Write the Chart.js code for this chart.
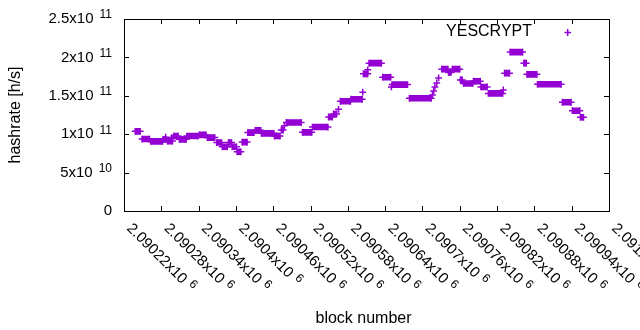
<!DOCTYPE html>
<html>
<head>
<meta charset="utf-8">
<script src="https://cdn.jsdelivr.net/npm/chart.js@4/dist/chart.umd.min.js"></script>
<style>
  body { margin: 0; background: #fff; }
  canvas { display: block; }
</style>
</head>
<body>
<canvas id="hashChart" width="640" height="330"></canvas>
<script>
// hashrate plateaus: first block, last block, hashrate [h/s]
var segStart = [2090238, 2090249, 2090263, 2090283, 2090287, 2090290, 2090297, 2090300, 2090309, 2090321,
                2090341, 2090354, 2090369, 2090378, 2090388, 2090394, 2090402, 2090410, 2090419, 2090431,
                2090441, 2090462, 2090473, 2090478, 2090481, 2090507, 2090523, 2090549, 2090557, 2090565,
                2090568, 2090585, 2090604, 2090605, 2090612, 2090614, 2090636, 2090650, 2090651, 2090679,
                2090716, 2090718, 2090720, 2090723, 2090726, 2090731, 2090742, 2090748, 2090761, 2090766,
                2090782, 2090794, 2090806, 2090830, 2090832, 2090841, 2090863, 2090868, 2090885, 2090925,
                2090941, 2090954];
var segEnd   = [2090246, 2090261, 2090282, 2090288, 2090287, 2090298, 2090297, 2090307, 2090320, 2090339,
                2090352, 2090366, 2090377, 2090386, 2090393, 2090401, 2090408, 2090418, 2090429, 2090440,
                2090461, 2090471, 2090476, 2090478, 2090505, 2090522, 2090548, 2090555, 2090562, 2090565,
                2090584, 2090603, 2090604, 2090612, 2090612, 2090634, 2090649, 2090650, 2090676, 2090714,
                2090716, 2090718, 2090720, 2090723, 2090726, 2090741, 2090746, 2090760, 2090764, 2090781,
                2090793, 2090804, 2090829, 2090830, 2090840, 2090861, 2090867, 2090884, 2090923, 2090939,
                2090953, 2090959];
var segRate  = [1.037e11, 0.937e11, 0.906e11, 0.933e11, 0.960e11, 0.910e11, 0.956e11, 0.976e11, 0.933e11, 0.976e11,
                0.991e11, 0.956e11, 0.891e11, 0.836e11, 0.891e11, 0.836e11, 0.771e11, 0.897e11, 1.021e11, 1.050e11,
                1.011e11, 0.976e11, 1.055e11, 1.110e11, 1.153e11, 1.024e11, 1.093e11, 1.224e11, 1.263e11, 1.324e11,
                1.429e11, 1.455e11, 1.547e11, 1.786e11, 1.838e11, 1.925e11, 1.742e11, 1.616e11, 1.646e11, 1.468e11,
                1.511e11, 1.564e11, 1.616e11, 1.668e11, 1.733e11, 1.847e11, 1.805e11, 1.847e11, 1.707e11, 1.661e11,
                1.690e11, 1.615e11, 1.531e11, 1.577e11, 1.795e11, 2.069e11, 1.925e11, 1.779e11, 1.650e11, 1.416e11,
                1.306e11, 1.220e11];

var xTickValues = [2090220, 2090280, 2090340, 2090400, 2090460, 2090520, 2090580,
                   2090640, 2090700, 2090760, 2090820, 2090880, 2090940, 2091000];
var xTickLabels = ['2.09022x10^6', '2.09028x10^6', '2.09034x10^6', '2.0904x10^6', '2.09046x10^6',
                   '2.09052x10^6', '2.09058x10^6', '2.09064x10^6', '2.0907x10^6', '2.09076x10^6',
                   '2.09082x10^6', '2.09088x10^6', '2.09094x10^6', '2.091x10^6'];
var yTickValues = [0, 5e10, 1e11, 1.5e11, 2e11, 2.5e11];
var yTickLabels = ['0', '5x10^10', '1x10^11', '1.5x10^11', '2x10^11', '2.5x10^11'];

var seriesName = 'YESCRYPT';
var purple = '#9400d3';
var FONT = '"Liberation Sans", Arial, sans-serif';

// each plateau becomes a line piece, broken by a null point
var points = [];
segStart.forEach(function (s, i) {
    points.push({x: s, y: segRate[i]});
    if (segEnd[i] !== s) points.push({x: segEnd[i], y: segRate[i]});
    points.push({x: segEnd[i], y: null});
});

// mantissa + raised exponent, "a^b"
function drawPowerText(ctx, text, x, y, align, gap) {
    var parts = text.split('^');
    ctx.font = '15px ' + FONT;
    var w1 = ctx.measureText(parts[0]).width;
    var w2 = 0;
    if (parts[1]) {
        ctx.font = '12px ' + FONT;
        w2 = ctx.measureText(parts[1]).width;
    } else {
        gap = 0;
    }
    var x0 = align === 'right' ? x - (w1 + gap + w2) : x;
    ctx.textAlign = 'left';
    ctx.textBaseline = 'middle';
    ctx.font = '15px ' + FONT;
    ctx.fillText(parts[0], x0, y);
    if (parts[1]) {
        ctx.font = '12px ' + FONT;
        ctx.fillText(parts[1], x0 + w1 + gap, y - 4);
    }
}

var gnuplotFrame = {
    id: 'gnuplotFrame',
    beforeDatasetsDraw: function (chart) {
        var ctx = chart.ctx, a = chart.chartArea;
        var xs = chart.scales.x, ys = chart.scales.y;
        ctx.save();
        ctx.strokeStyle = '#000';
        ctx.lineWidth = 1;
        ctx.strokeRect(a.left + 0.5, a.top + 0.5, a.right - a.left, a.bottom - a.top);
        ctx.beginPath();
        yTickValues.forEach(function (v) {
            var py = Math.round(ys.getPixelForValue(v)) + 0.5;
            ctx.moveTo(a.left, py); ctx.lineTo(a.left + 5, py);
            ctx.moveTo(a.right, py); ctx.lineTo(a.right - 5, py);
        });
        xTickValues.forEach(function (v) {
            var px = Math.round(xs.getPixelForValue(v)) + 0.5;
            ctx.moveTo(px, a.bottom); ctx.lineTo(px, a.bottom - 5);
            ctx.moveTo(px, a.top); ctx.lineTo(px, a.top + 5);
        });
        ctx.stroke();
        ctx.restore();
    },
    afterDraw: function (chart) {
        var ctx = chart.ctx, a = chart.chartArea;
        var xs = chart.scales.x, ys = chart.scales.y;
        ctx.save();
        ctx.fillStyle = '#000';

        yTickValues.forEach(function (v, i) {
            drawPowerText(ctx, yTickLabels[i], 112, ys.getPixelForValue(v), 'right', 6);
        });

        xTickValues.forEach(function (v, i) {
            ctx.save();
            ctx.translate(xs.getPixelForValue(v) + 5, a.bottom + 15);
            ctx.rotate(Math.PI / 4);
            drawPowerText(ctx, xTickLabels[i], 0, 0, 'left', 5);
            ctx.restore();
        });

        ctx.font = '16px ' + FONT;
        ctx.textAlign = 'center';
        ctx.textBaseline = 'middle';
        ctx.fillText('block number', (a.left + a.right) / 2 - 3, 319);
        ctx.save();
        ctx.translate(16, (a.top + a.bottom) / 2);
        ctx.rotate(-Math.PI / 2);
        ctx.fillText('hashrate [h/s]', 0, 0);
        ctx.restore();

        // key
        ctx.textAlign = 'right';
        ctx.fillText(seriesName, 532, 32);
        ctx.strokeStyle = purple;
        ctx.lineWidth = 1.5;
        ctx.beginPath();
        ctx.moveTo(564.5, 32.5); ctx.lineTo(571, 32.5);
        ctx.moveTo(567.7, 29); ctx.lineTo(567.7, 36);
        ctx.stroke();
        ctx.restore();
    }
};

new Chart(document.getElementById('hashChart'), {
    type: 'scatter',
    data: {
        datasets: [{
            label: seriesName,
            data: points,
            showLine: true,
            spanGaps: false,
            borderColor: purple,
            borderWidth: 6.6,
            borderCapStyle: 'butt',
            pointStyle: 'cross',
            pointRadius: 3.4,
            pointBorderWidth: 1.5,
            pointBorderColor: purple,
            pointBackgroundColor: purple
        }]
    },
    options: {
        responsive: false,
        animation: false,
        layout: { padding: { left: 124, right: 31, top: 19, bottom: 119 } },
        plugins: { legend: { display: false }, tooltip: { enabled: false } },
        scales: {
            x: { type: 'linear', display: false, min: 2090220, max: 2091000 },
            y: { type: 'linear', display: false, min: 0, max: 2.5e11 }
        }
    },
    plugins: [gnuplotFrame]
});
</script>
</body>
</html>
